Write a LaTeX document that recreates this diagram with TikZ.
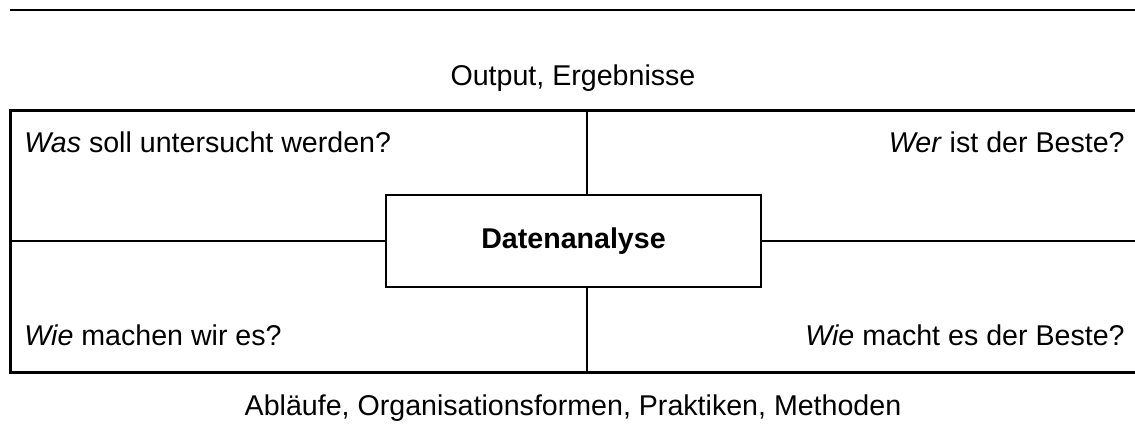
\documentclass[tikz,border=0pt]{standalone}
\usepackage{fontspec}
\setmainfont{Liberation Sans}
\usepackage{tikz}

\tikzset{
  frame/.style={line width=1.5pt, line join=miter},
  divider/.style={line width=1pt},
  label/.style={inner sep=0pt, font=\fontsize{14.3}{17}\selectfont},
  corebox/.style={draw, line width=1pt, inner sep=0pt, minimum width=187.5pt,
    minimum height=46pt, font=\fontsize{14.3}{17}\selectfont\bfseries}
}

\begin{document}
\begin{tikzpicture}[x=0.5pt, y=-0.5pt]
        \useasboundingbox (0, 0) rectangle (1135, 423);
        \coordinate (TL) at (10, 10);
        \coordinate (TR) at (1135, 10);
        \coordinate (FTL) at (10, 110);
        \coordinate (FTR) at (1135, 110);
        \coordinate (FBL) at (10, 372);
        \coordinate (FBR) at (1135, 372);
        \coordinate (ML) at (10, 241);
        \coordinate (MR) at (1135, 241);
        \coordinate (VT) at (587, 110);
        \coordinate (VB) at (587, 372);
        \node [corebox] (DA) at (573.5, 241) {Datenanalyse};
        \node [label] (OUT) at (573, 85) [anchor=base] {Output, Ergebnisse};
        \node [label] (ABL) at (573, 415) [anchor=base] {Abläufe, Organisationsformen, Praktiken, Methoden};
        \node [label, anchor=base west] (WAS) at (24, 152) {\textit{Was} soll untersucht werden?};
        \node [label, anchor=base east] (WER) at (1125, 152) {\textit{Wer} ist der Beste?};
        \node [label, anchor=base west] (WIE) at (24, 345) {\textit{Wie} machen wir es?};
        \node [label, anchor=base east] (WIEB) at (1125, 345) {\textit{Wie} macht es der Beste?};
        \draw [line width=1.25pt] (TL) -- (TR);
        \draw [frame] (FTR) -- (FTL) -- (FBL) -- (FBR);
        \draw [divider] (ML) -- (DA.west);
        \draw [divider] (DA.east) -- (MR);
        \draw [divider] (VT) -- (VT |- DA.north);
        \draw [divider] (VB |- DA.south) -- (VB);
\end{tikzpicture}
\end{document}
